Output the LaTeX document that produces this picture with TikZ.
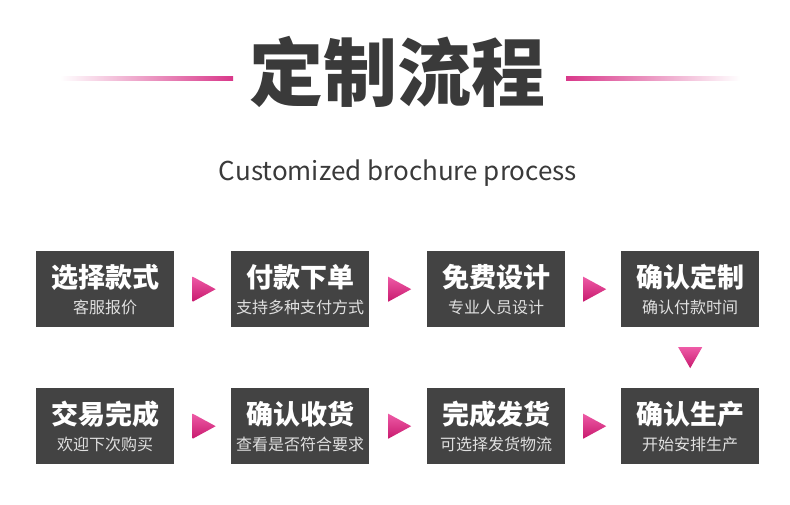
\documentclass[tikz,border=0pt]{standalone}
\usepackage{fontspec}
\newfontfamily\cjk{Noto Sans CJK SC}
\usetikzlibrary{calc}
\definecolor{boxgray}{HTML}{434343}
\definecolor{txtgray}{HTML}{3A3A3A}
\definecolor{pinkA}{HTML}{EE5AA6}
\definecolor{pinkB}{HTML}{C81A6E}
\definecolor{lineP}{HTML}{D9388A}
\begin{document}
\begin{tikzpicture}[x=1pt,y=-1pt,
  stepbox/.style={fill=boxgray,draw=none,minimum width=138pt,minimum height=76pt,inner sep=0pt,anchor=north west},
  boxtitle/.style={text=white,font=\cjk\bfseries\fontsize{27}{27}\selectfont,inner sep=0pt},
  boxsub/.style={text=white!88!black,font=\cjk\fontsize{16}{16}\selectfont,inner sep=0pt},
  arrowfill/.style={top color=pinkA,bottom color=pinkB,draw=none}]
\useasboundingbox (0,0) rectangle (790,504);
\fill[white] (0,0) rectangle (790,504);
% title
\node[text=txtgray,font=\cjk\bfseries\fontsize{74}{74}\selectfont,inner sep=0pt] (title) at (397,72) {定制流程};
\shade[left color=white,right color=lineP] (60,76) rectangle (233,80);
\shade[left color=lineP,right color=white] (566,76) rectangle (740,80);
\node[text=txtgray,font=\cjk\fontsize{26}{26}\selectfont,inner sep=0pt] (sub) at (398,173) {Customized brochure process};
% boxes row 1
\node[stepbox] (b1) at (36,251) {};
\node[stepbox] (b2) at (231,251) {};
\node[stepbox] (b3) at (427,251) {};
\node[stepbox] (b4) at (621,251) {};
% row 2
\node[stepbox] (b5) at (36,388) {};
\node[stepbox] (b6) at (231,388) {};
\node[stepbox] (b7) at (427,388) {};
\node[stepbox] (b8) at (621,388) {};
% texts
\foreach \b/\t/\s in {b1/选择款式/客服报价, b2/付款下单/支持多种支付方式, b3/免费设计/专业人员设计, b4/确认定制/确认付款时间, b5/交易完成/欢迎下次购买, b6/确认收货/查看是否符合要求, b7/完成发货/可选择发货物流, b8/确认生产/开始安排生产}{
  \node[boxtitle] (\b t) at ($(\b.north)+(0,26)$) {\t};
  \node[boxsub] (\b s) at ($(\b.north)+(0,56)$) {\s};
}
% right arrows
\foreach \l/\r in {b1/b2, b2/b3, b3/b4, b5/b6, b6/b7, b7/b8}{
  \coordinate (m\l) at ($(\l.east)!0.5!(\r.west)$);
  \shade[arrowfill] ($(m\l)+(-10,-12.5)$) -- ($(m\l)+(13,0)$) -- ($(m\l)+(-10,12.5)$) -- cycle;
}
% down arrow
\coordinate (md) at ($(b4.south)!0.5!(b8.north)$);
\shade[arrowfill] ($(md)+(-12,-10.5)$) -- ($(md)+(12,-10.5)$) -- ($(md)+(0,10.5)$) -- cycle;
\end{tikzpicture}
\end{document}
